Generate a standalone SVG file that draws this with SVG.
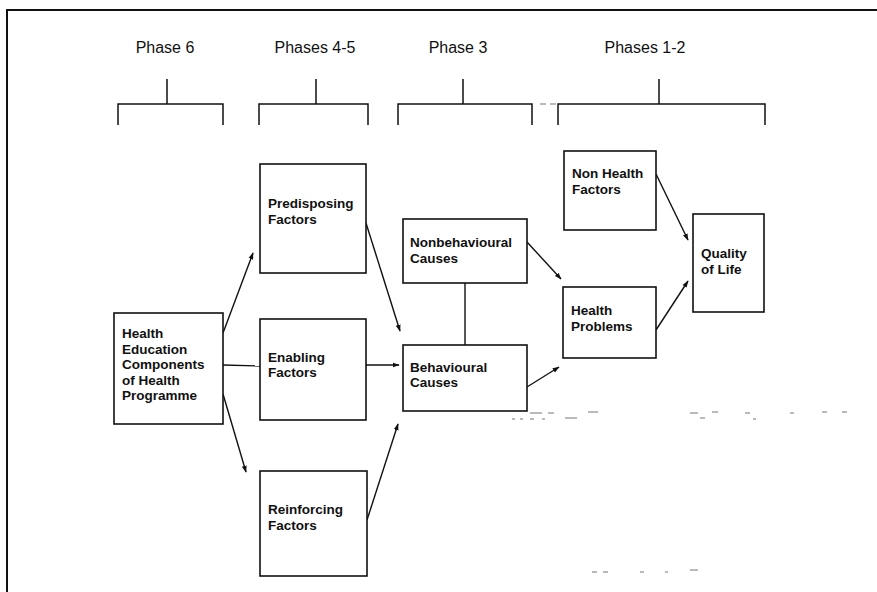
<svg xmlns="http://www.w3.org/2000/svg" width="877" height="592" viewBox="0 0 877 592">
  <defs>
    <marker id="arrow" viewBox="0 0 10 10" refX="9" refY="5" markerWidth="7" markerHeight="7" markerUnits="userSpaceOnUse" orient="auto">
      <path d="M0,1.5 L10,5 L0,8.5 z" fill="#111"/>
    </marker>
    <style>
      .frame { fill: none; stroke: #111; stroke-width: 2; }
      .box { fill: #fff; stroke: #111; stroke-width: 1.6; }
      .br { fill: none; stroke: #111; stroke-width: 1.5; }
      .ln { fill: none; stroke: #111; stroke-width: 1.4; }
      .arr { fill: none; stroke: #111; stroke-width: 1.4; marker-end: url(#arrow); }
      .phase { font-family: "Liberation Sans", Arial, sans-serif; font-size: 16px; fill: #111; }
      .lbl { font-family: "Liberation Sans", Arial, sans-serif; font-size: 13.5px; font-weight: bold; fill: #111; }
      .speck { stroke: #777; stroke-width: 1.2; fill: none; }
    </style>
  </defs>

  <rect width="877" height="592" fill="#fff"/>

  <!-- outer frame (top and left edges) -->
  <path class="frame" d="M7,592 L7,10 L877,10"/>

  <!-- phase headings with brackets -->
  <g id="phase6">
    <text class="phase" x="165" y="53" text-anchor="middle">Phase 6</text>
    <path class="br" d="M118,125 L118,104 L223,104 L223,125 M167,79 L167,104"/>
  </g>
  <g id="phases45">
    <text class="phase" x="315" y="53" text-anchor="middle">Phases 4-5</text>
    <path class="br" d="M259,125 L259,104 L368,104 L368,125 M316,79 L316,104"/>
  </g>
  <g id="phase3">
    <text class="phase" x="458" y="53" text-anchor="middle">Phase 3</text>
    <path class="br" d="M398,125 L398,104 L532,104 L532,125 M463,79 L463,104"/>
  </g>
  <g id="phases12">
    <text class="phase" x="645" y="53" text-anchor="middle">Phases 1-2</text>
    <path class="br" d="M558,125 L558,104 L765,104 L765,125 M659,79 L659,104"/>
  </g>

  <!-- connectors -->
  <g id="connectors">
    <line class="arr" x1="223" y1="333" x2="253" y2="253"/>
    <line class="ln" x1="223" y1="365" x2="260" y2="366"/>
    <line class="arr" x1="223" y1="394" x2="246" y2="472"/>
    <line class="arr" x1="366" y1="223" x2="400" y2="331"/>
    <line class="arr" x1="366" y1="365" x2="399" y2="365"/>
    <line class="arr" x1="367" y1="520" x2="398" y2="424"/>
    <line class="ln" x1="465" y1="283" x2="465" y2="345"/>
    <line class="arr" x1="527" y1="242" x2="561" y2="279"/>
    <line class="arr" x1="527" y1="387" x2="559" y2="367"/>
    <line class="arr" x1="656" y1="174" x2="688" y2="240"/>
    <line class="arr" x1="656" y1="330" x2="688" y2="281"/>
  </g>

  <!-- nodes -->
  <g id="health-education">
    <rect class="box" x="114" y="313" width="109" height="111"/>
    <text class="lbl" x="122"><tspan x="122" y="338">Health</tspan><tspan x="122" y="353.5">Education</tspan><tspan x="122" y="369">Components</tspan><tspan x="122" y="384.5">of Health</tspan><tspan x="122" y="400">Programme</tspan></text>
  </g>
  <g id="predisposing">
    <rect class="box" x="260" y="164" width="106" height="109"/>
    <text class="lbl"><tspan x="268" y="208">Predisposing</tspan><tspan x="268" y="224">Factors</tspan></text>
  </g>
  <g id="enabling">
    <rect class="box" x="260" y="319" width="106" height="101"/>
    <text class="lbl"><tspan x="268" y="362">Enabling</tspan><tspan x="268" y="377">Factors</tspan></text>
  </g>
  <g id="reinforcing">
    <rect class="box" x="260" y="471" width="107" height="105"/>
    <text class="lbl"><tspan x="268" y="514">Reinforcing</tspan><tspan x="268" y="530">Factors</tspan></text>
  </g>
  <g id="nonbehavioural">
    <rect class="box" x="403" y="219" width="124" height="64"/>
    <text class="lbl"><tspan x="410" y="247">Nonbehavioural</tspan><tspan x="410" y="263">Causes</tspan></text>
  </g>
  <g id="behavioural">
    <rect class="box" x="403" y="345" width="124" height="66"/>
    <text class="lbl"><tspan x="410" y="372">Behavioural</tspan><tspan x="410" y="387">Causes</tspan></text>
  </g>
  <g id="non-health">
    <rect class="box" x="564" y="151" width="92" height="79"/>
    <text class="lbl"><tspan x="572" y="178">Non Health</tspan><tspan x="572" y="194">Factors</tspan></text>
  </g>
  <g id="health-problems">
    <rect class="box" x="563" y="287" width="93" height="71"/>
    <text class="lbl"><tspan x="571" y="315">Health</tspan><tspan x="571" y="331">Problems</tspan></text>
  </g>
  <g id="quality">
    <rect class="box" x="693" y="214" width="71" height="98"/>
    <text class="lbl"><tspan x="701" y="258">Quality</tspan><tspan x="701" y="274">of Life</tspan></text>
  </g>

  <!-- faint dashes left in the print -->
  <g id="specks">
    <path class="speck" d="M530,413 h12 M548,413 h6 M588,412 h10 M690,413 h8 M712,412 h6 M745,413 h5 M790,413 h4 M822,412 h5 M842,412 h5 M512,419 h3 M520,419 h3 M530,419 h4 M542,419 h3 M565,418 h12 M700,418 h5 M753,419 h3"/>
    <path class="speck" d="M592,572 h5 M603,572 h5 M640,572 h4 M665,572 h3 M690,570 h8 M540,104 h6 M550,104 h6"/>
  </g>
</svg>
